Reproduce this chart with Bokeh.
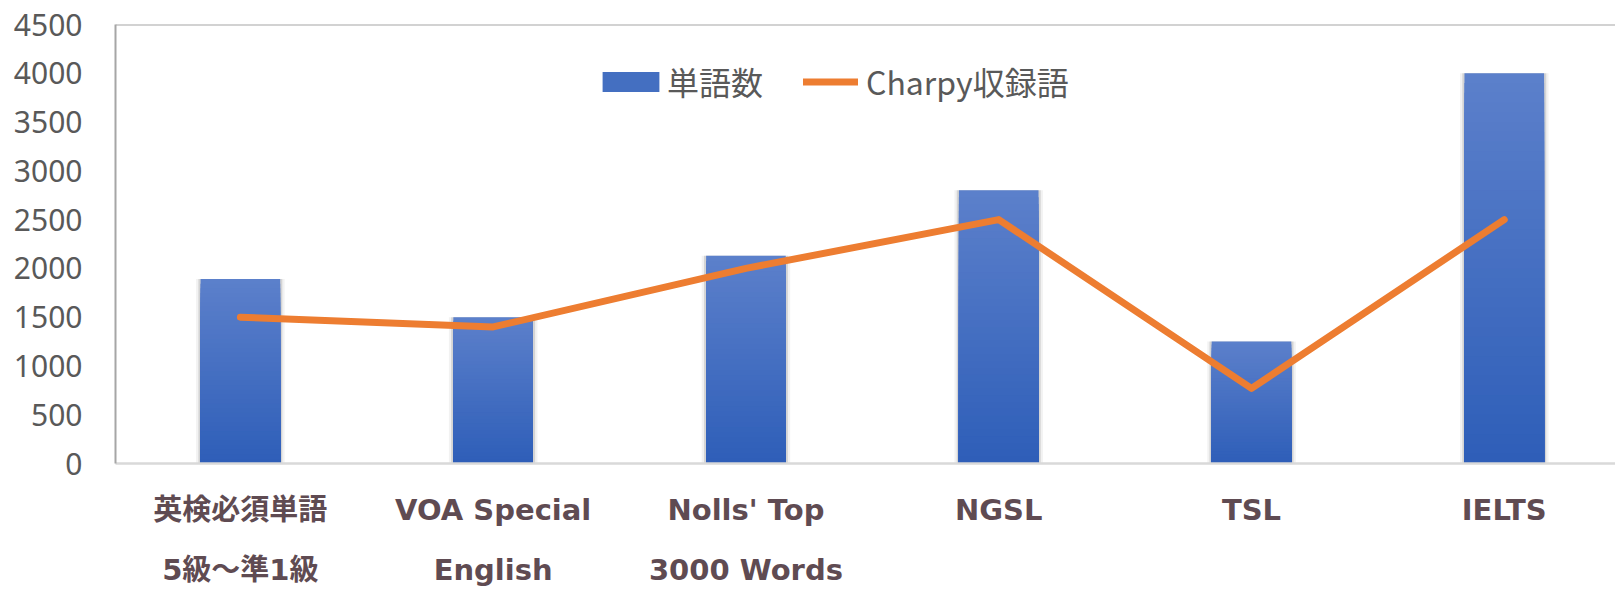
from bokeh.plotting import figure
from bokeh.models import FixedTicker, Span, Legend, LegendItem, ColumnDataSource
from bokeh.embed import file_html
from bokeh.resources import INLINE

categories = ["英検必須単語\n5級～準1級", "VOA Special\nEnglish", "Nolls' Top\n3000 Words",
              "NGSL", "TSL", "IELTS"]
word_counts = [1890, 1500, 2130, 2800, 1250, 4000]
charpy_counts = [1500, 1400, 2000, 2500, 770, 2500]
y_ticks = [0, 500, 1000, 1500, 2000, 2500, 3000, 3500, 4000, 4500]

xs = list(range(len(categories)))

p = figure(width=1615, height=590, x_range=(-0.494, 5.44), y_range=(0, 4500),
           output_backend="svg", toolbar_location=None,
           min_border_left=115, min_border_right=0, min_border_top=24, min_border_bottom=125)
p.outline_line_color = None
p.xgrid.visible = False
p.ygrid.visible = False
p.background_fill_color = "white"
p.border_fill_color = "white"

# soft shadow behind bars
p.vbar(x=xs, top=word_counts, width=0.35, fill_color="#bdbdbd", fill_alpha=0.2, line_color=None)
p.vbar(x=xs, top=word_counts, width=0.332, fill_color="#8e8e8e", fill_alpha=0.3, line_color=None)

# gradient bars: overlapping layers, tallest (lightest) first
N = 40
top_rgb = (92, 128, 203)
bot_rgb = (46, 94, 184)
seg = dict(x=[], top=[], color=[])
for k in range(N):
    frac = (N - k) / N
    f = (N - k - 0.5) / N
    rgb = tuple(int(round(b + (t - b) * f)) for t, b in zip(top_rgb, bot_rgb))
    col = "#%02x%02x%02x" % rgb
    for i, v in enumerate(word_counts):
        seg["x"].append(xs[i])
        seg["top"].append(v * frac)
        seg["color"].append(col)
src = ColumnDataSource(seg)
bars = p.vbar(x="x", top="top", width=0.315, fill_color="color", line_color=None, source=src)

line = p.line(x=xs, y=charpy_counts, line_color="#ed7d31", line_width=7,
              line_cap="round", line_join="round")

# top border
p.add_layout(Span(location=4500, dimension="width", line_color="#a6a6a6", line_width=2))

# y axis
p.yaxis.ticker = FixedTicker(ticks=y_ticks)
p.yaxis.axis_line_color = "#a6a6a6"
p.yaxis.axis_line_width = 2
p.yaxis.major_tick_line_color = None
p.yaxis.minor_tick_line_color = None
p.yaxis.major_label_standoff = 27
p.yaxis.major_label_text_font = "Noto Sans"
p.yaxis.major_label_text_font_size = "30px"
p.yaxis.major_label_text_color = "#595959"

# x axis
p.xaxis.ticker = FixedTicker(ticks=xs)
p.xaxis.major_label_overrides = {i: c for i, c in zip(xs, categories)}
p.xaxis.axis_line_color = "#d9d9d9"
p.xaxis.axis_line_width = 2.5
p.xaxis.major_tick_line_color = None
p.xaxis.minor_tick_line_color = None
p.xaxis.major_label_standoff = 23
p.xaxis.major_label_text_font = "DejaVu Sans, Noto Sans CJK JP"
p.xaxis.major_label_text_font_style = "bold"
p.xaxis.major_label_text_font_size = "29px"
p.xaxis.major_label_text_color = "#5f4b52"
p.xaxis.major_label_text_line_height = 1.78

legend_style = dict(orientation="horizontal", border_line_color=None, background_fill_alpha=0,
                    label_text_font="Noto Sans CJK JP", label_text_font_size="32px",
                    label_text_color="#595959", glyph_height=25, padding=0, margin=0)
legend1 = Legend(items=[LegendItem(label="単語数", renderers=[bars], index=N // 2 * len(word_counts))],
                 location=(480, 359), glyph_width=71, label_standoff=1, **legend_style)
legend2 = Legend(items=[LegendItem(label="Charpy収録語", renderers=[line])],
                 location=(688, 359), glyph_width=55, label_standoff=8, **legend_style)
p.add_layout(legend1)
p.add_layout(legend2)

open("out.html", "w").write(file_html(p, INLINE))
